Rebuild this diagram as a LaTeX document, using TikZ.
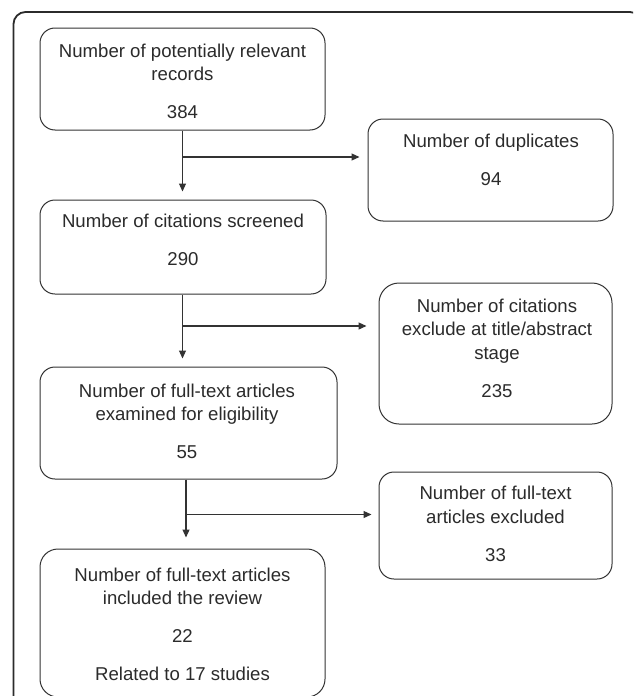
\documentclass[tikz,border=0pt]{standalone}
\usepackage{fontspec}
\setmainfont{Liberation Sans}
\usetikzlibrary{arrows.meta,calc}
\definecolor{ink}{HTML}{2B2B2B}
\definecolor{edge}{HTML}{333333}
\tikzset{
  box/.style={draw=edge, line width=1pt, rounded corners=15pt, inner sep=0pt},
  txt/.style={anchor=north, inner sep=0pt, align=center, text=ink,
    font=\fontsize{18.6}{23.7}\selectfont},
  conn/.style={draw=edge, line width=1.2pt},
  arr/.style={conn, -{Triangle[length=8pt,width=7pt]}},
}
\begin{document}
\begin{tikzpicture}[x=1pt,y=-1pt]
\useasboundingbox (0,0) rectangle (633,696);
\clip (0,0) rectangle (633,696);
\fill[white] (0,0) rectangle (633,696);
% outer frame
\draw[draw=ink, line width=1.8pt, rounded corners=12pt] (13.5,12) rectangle (642,720);
% boxes
\node[box, minimum width=285pt, minimum height=102pt] (b1) at (182.5,79) {};
\node[box, minimum width=245pt, minimum height=102pt] (b2) at (490.5,170) {};
\node[box, minimum width=286pt, minimum height=94pt] (b3) at (183,247) {};
\node[box, minimum width=233pt, minimum height=141pt, rounded corners=20pt] (b4) at (495.5,353.5) {};
\node[box, minimum width=297pt, minimum height=112pt] (b5) at (188.5,423) {};
\node[box, minimum width=233pt, minimum height=107pt] (b6) at (495.5,525.5) {};
\node[box, minimum width=285pt, minimum height=148pt, rounded corners=18pt] (b7) at (182.5,623) {};
% texts
\node[txt] (t1) at (182.5,43.5) {Number of potentially relevant\\records\\[14.3pt]384};
\node[txt] (t2) at (491,133.5) {Number of duplicates\\[14.3pt]94};
\node[txt] (t3) at (183,214) {Number of citations screened\\[14.3pt]290};
\node[txt] (t4) at (497,298.5) {Number of citations\\exclude at title/abstract\\stage\\[14.3pt]235};
\node[txt] (t5) at (187,383.5) {Number of full-text articles\\examined for eligibility\\[14.3pt]55};
\node[txt] (t6) at (495.5,486) {Number of full-text\\articles excluded\\[14.3pt]33};
\node[txt] (t7) at (182.5,567.5) {Number of full-text articles\\included the review\\[14.3pt]22\\[14.3pt]Related to 17 studies};
% junctions
\coordinate (j1) at (182.5,157);
\coordinate (j2) at (182.5,326);
\coordinate (j3) at (186,514.5);
% connectors
\draw[arr, shorten >=8pt] (b1.south -| j1) -- (j1 |- b3.north);
\draw[arr, shorten >=8pt] (j1) -- (b2.west |- j1);
\draw[arr, shorten >=8pt] (b3.south -| j2) -- (j2 |- b5.north);
\draw[arr, shorten >=12pt] (j2) -- (b4.west |- j2);
\draw[arr, shorten >=11pt] (b5.south -| j3) -- (j3 |- b7.north);
\draw[arr, shorten >=7pt] (j3) -- (b6.west |- j3);
\end{tikzpicture}
\end{document}
